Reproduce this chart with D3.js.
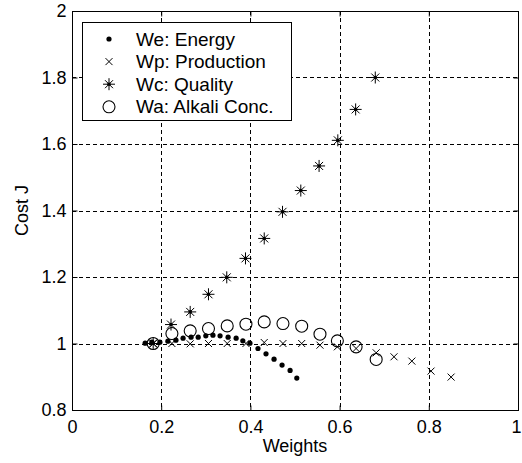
<!DOCTYPE html>
<html>
<head>
<meta charset="utf-8">
<script src="https://cdn.jsdelivr.net/npm/d3@7"></script>
<style>
  html, body { margin: 0; padding: 0; background: #fff; }
  svg { display: block; }
  text { font-family: "Liberation Sans", Arial, sans-serif; fill: #000; }
</style>
</head>
<body>
<svg id="chart" width="522" height="463"></svg>
<script>
// Weight values and resulting cost J for each weighting factor
const energyW = [0.164, 0.179, 0.197, 0.215, 0.233, 0.249, 0.267, 0.283, 0.300, 0.316, 0.332,
                 0.350, 0.368, 0.383, 0.399, 0.417, 0.435, 0.453, 0.471, 0.489, 0.504];
const energyJ = [1.001, 1.004, 1.004, 1.007, 1.010, 1.016, 1.019, 1.019, 1.023, 1.025, 1.023,
                 1.019, 1.016, 1.008, 1.001, 0.985, 0.969, 0.953, 0.935, 0.919, 0.896];

const prodW = [0.182, 0.224, 0.265, 0.306, 0.348, 0.390, 0.431, 0.473, 0.515, 0.556, 0.595,
               0.637, 0.682, 0.722, 0.762, 0.805, 0.850];
const prodJ = [1.000, 1.000, 0.999, 1.000, 1.000, 1.000, 1.003, 1.000, 1.000, 0.995, 0.990,
               0.985, 0.972, 0.960, 0.947, 0.917, 0.899];

const qualW = [0.182, 0.222, 0.265, 0.306, 0.347, 0.389, 0.431, 0.472, 0.513, 0.554, 0.596,
               0.636, 0.680];
const qualJ = [1.000, 1.057, 1.095, 1.148, 1.199, 1.256, 1.316, 1.396, 1.460, 1.534, 1.611,
               1.704, 1.800];

const alkW = [0.182, 0.224, 0.265, 0.306, 0.348, 0.390, 0.431, 0.473, 0.515, 0.556, 0.595,
              0.637, 0.682];
const alkJ = [1.000, 1.030, 1.038, 1.045, 1.053, 1.058, 1.065, 1.060, 1.052, 1.028, 1.008,
              0.990, 0.952];

const xTicks = [0, 0.2, 0.4, 0.6, 0.8, 1];
const yTicks = [0.8, 1, 1.2, 1.4, 1.6, 1.8, 2];
const legendLabels = ["We: Energy", "Wp: Production", "Wc: Quality", "Wa: Alkali Conc."];

const svg = d3.select("#chart");
const plotL = 72, plotR = 518, plotT = 11, plotB = 410;

const x = d3.scaleLinear().domain([0, 1]).range([plotL, plotR]);
const y = d3.scaleLinear().domain([0.8, 2]).range([plotB, plotT]);

const fmt = d => String(+d.toFixed(1));

// dashed grid
const grid = svg.append("g").attr("stroke", "#000").attr("stroke-width", 1)
  .attr("stroke-dasharray", "4,3").attr("fill", "none");
xTicks.slice(1, -1).forEach(t => {
  grid.append("line").attr("x1", Math.round(x(t)) + 0.5).attr("x2", Math.round(x(t)) + 0.5)
    .attr("y1", plotT).attr("y2", plotB);
});
yTicks.slice(1, -1).forEach(t => {
  grid.append("line").attr("y1", Math.round(y(t)) + 0.5).attr("y2", Math.round(y(t)) + 0.5)
    .attr("x1", plotL).attr("x2", plotR);
});

// axes with inward ticks on all four sides
const axisFont = "18px";
const gx = svg.append("g").attr("transform", `translate(0,${plotB + 0.5})`)
  .call(d3.axisBottom(x).tickValues(xTicks).tickSize(-5).tickPadding(10).tickFormat(fmt));
const gxTop = svg.append("g").attr("transform", `translate(0,${plotT + 0.5})`)
  .call(d3.axisTop(x).tickValues(xTicks).tickSize(-5).tickFormat(""));
const gy = svg.append("g").attr("transform", `translate(${plotL + 0.5},0)`)
  .call(d3.axisLeft(y).tickValues(yTicks).tickSize(-5).tickPadding(6).tickFormat(fmt));
const gyRight = svg.append("g").attr("transform", `translate(${plotR + 0.5},0)`)
  .call(d3.axisRight(y).tickValues(yTicks).tickSize(-5).tickFormat(""));

[gx, gxTop, gy, gyRight].forEach(g => {
  g.select(".domain").remove();
  g.selectAll("line").attr("stroke", "#000");
  g.selectAll("text").attr("font-size", axisFont)
    .attr("font-family", "'Liberation Sans', Arial, sans-serif").attr("fill", "#000");
});
// keep the label at the right edge inside the page
gx.selectAll(".tick").filter(d => d === 1).select("text").attr("dx", -2);

// box
svg.append("rect").attr("x", plotL + 0.5).attr("y", plotT + 0.5)
  .attr("width", plotR - plotL).attr("height", plotB - plotT)
  .attr("fill", "none").attr("stroke", "#000");

// axis titles
svg.append("text").attr("x", (plotL + plotR) / 2).attr("y", 452)
  .attr("text-anchor", "middle").attr("font-size", axisFont).text("Weights");
svg.append("text").attr("transform", `translate(28,${(plotT + plotB) / 2}) rotate(-90)`)
  .attr("text-anchor", "middle").attr("font-size", axisFont).text("Cost J");

// marker shapes
function drawDot(g, cx, cy) {
  g.append("circle").attr("cx", cx).attr("cy", cy).attr("r", 2.6).attr("fill", "#000");
}
function drawCross(g, cx, cy) {
  const s = 3.5;
  g.append("path").attr("d", `M${cx - s},${cy - s}L${cx + s},${cy + s}M${cx - s},${cy + s}L${cx + s},${cy - s}`)
    .attr("stroke", "#000").attr("stroke-width", 1).attr("fill", "none");
}
function drawStar(g, cx, cy) {
  const s = 6, d = 4;
  g.append("path").attr("d",
    `M${cx - s},${cy}L${cx + s},${cy}M${cx},${cy - s}L${cx},${cy + s}` +
    `M${cx - d},${cy - d}L${cx + d},${cy + d}M${cx - d},${cy + d}L${cx + d},${cy - d}`)
    .attr("stroke", "#000").attr("stroke-width", 1).attr("fill", "none");
  g.append("circle").attr("cx", cx).attr("cy", cy).attr("r", 1.8).attr("fill", "#000");
}
function drawRing(g, cx, cy) {
  g.append("circle").attr("cx", cx).attr("cy", cy).attr("r", 6)
    .attr("fill", "none").attr("stroke", "#000").attr("stroke-width", 1.1);
}

const series = [
  { w: energyW, j: energyJ, draw: drawDot },
  { w: prodW, j: prodJ, draw: drawCross },
  { w: qualW, j: qualJ, draw: drawStar },
  { w: alkW, j: alkJ, draw: drawRing }
];

const marks = svg.append("g");
series.forEach(s => {
  const g = marks.append("g");
  s.w.forEach((w, i) => s.draw(g, x(w), y(s.j[i])));
});

// legend
const leg = svg.append("g");
leg.append("rect").attr("x", 82.5).attr("y", 22.5).attr("width", 209).attr("height", 98)
  .attr("fill", "#fff").attr("stroke", "#000");
legendLabels.forEach((lab, i) => {
  const by = 45.5 + i * 22.6;
  series[i].draw(leg, 109, by - 6.5);
  leg.append("text").attr("x", 136).attr("y", by).attr("font-size", "19px").text(lab);
});
</script>
</body>
</html>
